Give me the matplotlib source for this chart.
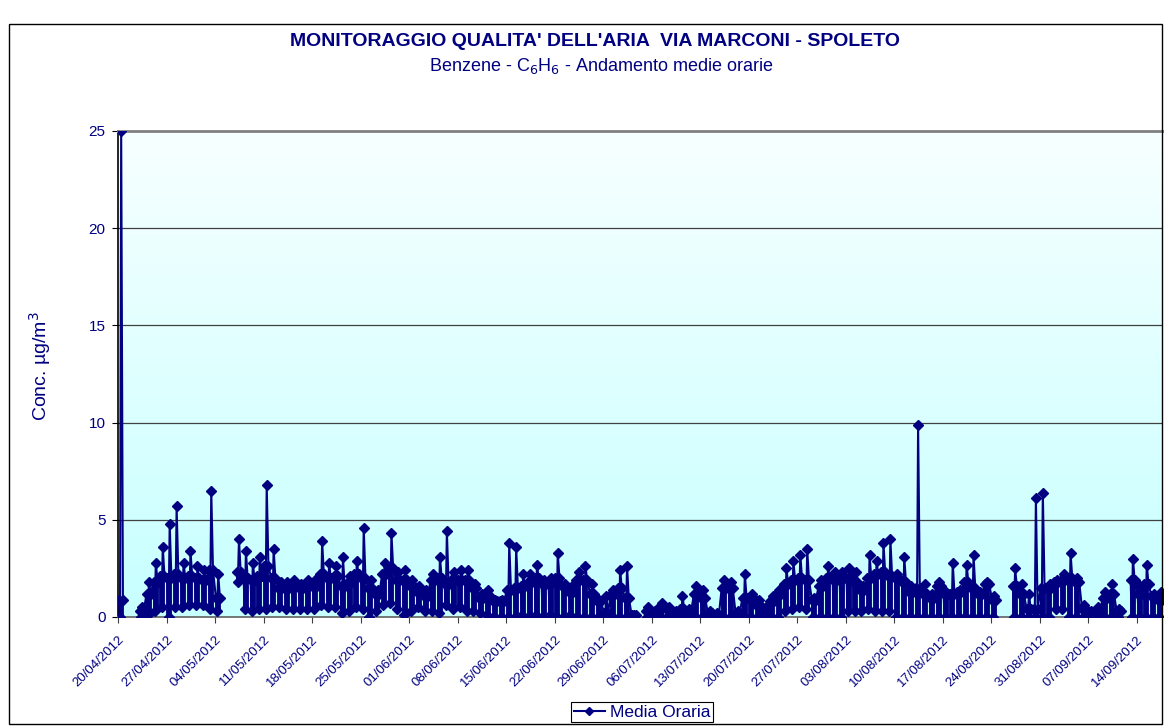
import numpy as np
import matplotlib
matplotlib.use("Agg")
import matplotlib.pyplot as plt
import matplotlib.dates as mdates
from matplotlib.patches import Rectangle
from matplotlib.lines import Line2D
import datetime as dt

plt.rcParams['font.family'] = ['Liberation Sans', 'DejaVu Sans']

# giorni dal 20/04/2012 con dati orari, e per ogni giorno: minimo, livello tipico, massimo (ug/m3)
giorni = [0, 3, 4, 5, 6, 7, 8, 9, 10, 11, 12, 13, 14,
          17, 18, 19, 20, 21, 22, 23, 24, 25, 26, 27, 28, 29, 30, 31, 32, 33, 34, 35, 36,
          37, 38, 39, 40, 41, 42, 43, 44, 45, 46, 47, 48, 49, 50, 51, 52, 53, 54, 55, 56,
          57, 58, 59, 60, 61, 62, 63, 64, 65, 66, 67, 68, 69, 70, 71, 72, 73, 74,
          76, 77, 78, 79, 80, 81, 82, 83, 84, 85, 86, 87, 88, 89, 90, 91, 92, 93, 94, 95,
          96, 97, 98, 99, 100, 101, 102, 103, 104, 105, 106, 107, 108, 109, 110, 111, 112,
          113, 114, 115, 116, 117, 118, 119, 120, 121, 122, 123, 124, 125, 126,
          129, 130, 131, 132, 133, 134, 135, 136, 137, 138, 139, 140, 141, 142, 143, 144,
          146, 147, 148, 149, 150]
minimi = [0.0, 0.0, 0.1, 0.3, 0.5, 0.0, 0.5, 0.5, 0.6, 0.6, 0.6, 0.4, 0.3,
          1.8, 0.4, 0.3, 0.4, 0.4, 0.5, 0.5, 0.4, 0.4, 0.4, 0.4, 0.4, 0.6, 0.5, 0.5, 0.2, 0.3, 0.5, 0.4, 0.0,
          0.3, 0.6, 0.7, 0.4, 0.1, 0.3, 0.5, 0.3, 0.3, 0.2, 0.6, 0.4, 0.5, 0.3, 0.3, 0.2, 0.1, 0.0, 0.0, 0.0,
          0.0, 0.1, 0.0, 0.1, 0.0, 0.1, 0.0, 0.0, 0.1, 0.0, 0.0, 0.0, 0.0, 0.0, 0.0, 0.0, 0.0, 0.0,
          0.0, 0.0, 0.0, 0.0, 0.0, 0.0, 0.0, 0.0, 0.0, 0.0, 0.0, 0.0, 0.0, 0.0, 0.0, 0.0, 0.0, 0.0, 0.0, 0.0,
          0.3, 0.4, 0.5, 0.4, 0.0, 0.0, 0.0, 0.0, 0.0, 0.3, 0.3, 0.3, 0.4, 0.3, 0.3, 0.3, 0.0,
          0.0, 0.0, 0.0, 0.0, 0.0, 0.0, 0.0, 0.0, 0.0, 0.0, 0.0, 0.0, 0.0, 0.0,
          0.0, 0.0, 0.0, 0.0, 0.0, 0.0, 0.4, 0.4, 0.0, 0.0, 0.0, 0.0, 0.0, 0.0, 0.0, 0.0,
          0.0, 0.0, 0.0, 0.0, 0.0]
medi = [0.9, 0.3, 1.2, 1.8, 2.1, 2.0, 2.2, 2.0, 2.1, 2.0, 1.9, 2.4, 1.0,
        2.3, 2.0, 1.9, 2.1, 2.6, 2.0, 1.5, 1.5, 1.6, 1.5, 1.6, 1.6, 2.2, 2.0, 2.1, 1.6, 1.8, 2.2, 2.0, 1.5,
        1.2, 2.2, 2.5, 1.9, 1.9, 1.6, 1.3, 1.1, 1.9, 2.0, 1.7, 1.9, 1.9, 1.9, 1.5, 1.0, 1.1, 0.8, 0.8, 1.4,
        1.5, 1.6, 1.8, 2.0, 1.7, 1.8, 2.0, 1.6, 1.3, 1.9, 1.9, 1.2, 0.8, 0.2, 1.2, 1.5, 1.0, 0.1,
        0.3, 0.2, 0.5, 0.4, 0.2, 0.4, 0.3, 1.2, 1.0, 0.2, 0.1, 1.5, 1.5, 0.2, 1.0, 1.0, 0.6, 0.3, 0.8, 1.2,
        1.7, 1.9, 2.0, 1.9, 0.9, 1.6, 2.0, 1.9, 2.0, 2.0, 1.8, 1.4, 2.0, 2.2, 2.3, 2.1, 2.0,
        1.8, 1.3, 1.5, 1.2, 1.0, 1.6, 1.2, 1.2, 1.3, 1.8, 1.5, 1.2, 1.7, 0.9,
        1.6, 1.2, 0.4, 0.4, 1.5, 1.5, 1.8, 1.9, 2.0, 1.8, 0.4, 0.2, 0.3, 1.0, 1.2, 0.3,
        1.9, 1.2, 1.7, 1.1, 0.9]
massimi = [25.0, 0.5, 1.8, 2.8, 3.6, 4.8, 5.7, 2.8, 3.4, 2.6, 2.4, 6.5, 2.2,
           4.0, 3.4, 2.8, 3.1, 6.8, 3.5, 1.8, 1.8, 1.9, 1.7, 1.9, 1.9, 3.9, 2.8, 2.6, 3.1, 2.1, 2.9, 4.6, 1.9,
           1.4, 2.8, 4.3, 2.3, 2.4, 1.9, 1.6, 1.4, 2.2, 3.1, 4.4, 2.3, 2.4, 2.4, 1.7, 1.2, 1.4, 0.9, 0.9, 3.8,
           3.6, 2.2, 2.2, 2.7, 1.9, 2.0, 3.3, 1.7, 1.6, 2.3, 2.6, 1.7, 0.9, 1.1, 1.4, 2.4, 2.6, 0.1,
           0.5, 0.3, 0.7, 0.5, 0.3, 1.1, 0.4, 1.6, 1.4, 0.3, 0.2, 1.9, 1.8, 0.3, 2.2, 1.2, 0.9, 0.5, 1.1, 1.4,
           2.5, 2.9, 3.2, 3.5, 1.0, 1.9, 2.6, 2.3, 2.3, 2.5, 2.3, 1.6, 3.2, 2.9, 3.8, 4.0, 2.2,
           3.1, 1.6, 9.9, 1.7, 1.2, 1.8, 1.3, 2.8, 1.4, 2.7, 3.2, 1.3, 1.8, 1.1,
           2.5, 1.7, 1.2, 6.1, 6.4, 1.7, 1.9, 2.2, 3.3, 2.0, 0.6, 0.3, 0.5, 1.3, 1.7, 0.4,
           3.0, 1.6, 2.7, 1.2, 1.3]

tick_giorni = list(range(0, 148, 7))

inizio = dt.datetime(2012, 4, 20)
blu = '#000080'

# sequenza dei punti: tipico -> minimo -> massimo -> tipico, interrotta dove mancano i giorni
xs, ys = [], []
prec = None
for g, lo, me, hi in zip(giorni, minimi, medi, massimi):
    if prec is not None and g != prec + 1:
        xs.append(mdates.date2num(inizio + dt.timedelta(days=prec + 1)))
        ys.append(np.nan)
    for ora, v in zip([3, 7, 11, 17], [me, lo, hi, me]):
        xs.append(mdates.date2num(inizio + dt.timedelta(days=g, hours=ora)))
        ys.append(v)
    prec = g

fig = plt.figure(figsize=(11.64, 7.26), dpi=100)
W, H = 1164, 726
ax = fig.add_axes([118 / W, 1 - 617 / H, (1163 - 118) / W, (617 - 131) / H])

# sfondo sfumato dell'area del grafico
grad = np.linspace(0, 1, 256)
cols = np.ones((256, 1, 3))
cols[:, 0, 0] = 0.97 - 0.19 * grad
ax.imshow(cols, extent=[0, 1, 0, 1], transform=ax.transAxes, aspect='auto', zorder=0)

for v in [5, 10, 15, 20]:
    ax.axhline(v, color='#404040', lw=0.9, zorder=1)

# colonne dense dei valori orari
xc = [mdates.date2num(inizio + dt.timedelta(days=g, hours=10)) for g in giorni]
ax.vlines(xc, minimi, medi, colors=blu, lw=4.2, zorder=2)
ax.plot(xs, ys, color=blu, lw=1.5, marker='D', ms=4.8, zorder=3)

x0 = mdates.date2num(inizio)
ax.set_xlim(x0, x0 + 150.8)
ax.set_ylim(0, 25)
ax.set_yticks([0, 5, 10, 15, 20, 25])
ax.set_xticks([x0 + d for d in tick_giorni])
ax.xaxis.set_major_formatter(mdates.DateFormatter('%d/%m/%Y'))
ax.tick_params(axis='x', colors=blu, labelsize=9.5, length=4, width=0.8, direction='out', pad=8)
ax.tick_params(axis='x', color='#404040')
ax.tick_params(axis='y', colors=blu, labelsize=11, length=4, width=0.8, direction='out', pad=5)
ax.tick_params(axis='y', color='black')
for lab in ax.get_xticklabels():
    lab.set_rotation(45)
    lab.set_ha('right')
    lab.set_rotation_mode('anchor')

ax.spines['right'].set_visible(False)
ax.spines['left'].set_color('black')
ax.spines['left'].set_linewidth(1.2)
ax.spines['bottom'].set_color('#606060')
ax.spines['bottom'].set_linewidth(1.2)
ax.spines['top'].set_color('#808080')
ax.spines['top'].set_linewidth(2)

fig.text(595 / W, 1 - 42 / H, "MONITORAGGIO QUALITA' DELL'ARIA  VIA MARCONI - SPOLETO",
         ha='center', va='center', fontsize=14, fontweight='bold', color=blu)
fig.text(601 / W, 1 - 66 / H, 'Benzene - C$_6$H$_6$ - Andamento medie orarie',
         ha='center', va='center', fontsize=13, color=blu)
fig.text(40 / W, 1 - 366 / H, 'Conc. µg/m$^3$', rotation=90, ha='center', va='center',
         fontsize=14, color=blu)

fig.patches.append(Rectangle((9 / W, 1 - 724 / H), (1162 - 9) / W, (724 - 24) / H,
                             transform=fig.transFigure, fill=False, ec='black', lw=1))

h = Line2D([], [], color=blu, lw=1.5, marker='D', ms=4.5)
leg = fig.legend([h], ['Media Oraria'], loc='center', bbox_to_anchor=(642 / W, 1 - 712 / H),
                 fontsize=12.5, frameon=True, fancybox=False, edgecolor='black', framealpha=1,
                 handlelength=1.8, borderpad=0.15, handletextpad=0.3, borderaxespad=0)
leg.get_frame().set_linewidth(0.8)
for t in leg.get_texts():
    t.set_color(blu)

fig.savefig('out.png', dpi=100)
